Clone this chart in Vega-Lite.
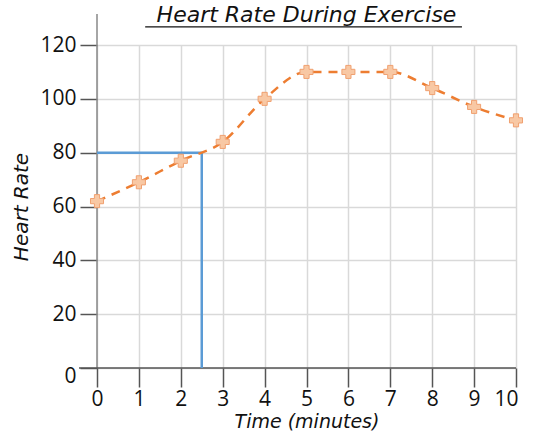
{
  "$schema": "https://vega.github.io/schema/vega-lite/v6.json",
  "autosize": "none",
  "width": 419,
  "height": 323,
  "padding": {"left": 97, "top": 45, "right": 17, "bottom": 64},
  "background": "white",
  "data": {"values": [{}]},
  "title": {
    "text": "Heart Rate During Exercise",
    "font": "DejaVu Sans",
    "fontStyle": "italic",
    "fontWeight": "normal",
    "fontSize": 22,
    "color": "#111",
    "baseline": "bottom",
    "offset": 0,
    "dy": 36,
    "anchor": "middle"
  },
  "config": {
    "view": {"stroke": null},
    "axis": {
      "labelFont": "Open Sans",
      "labelFontSize": 21,
      "labelColor": "#111",
      "labelOverlap": false,
      "titleFont": "DejaVu Sans",
      "titleFontStyle": "italic",
      "titleFontWeight": "normal",
      "titleFontSize": 20,
      "titleColor": "#111",
      "gridColor": "#d9d9d9",
      "gridWidth": 1.5,
      "tickColor": "#555",
      "tickWidth": 1.5,
      "domain": false
    }
  },
  "datasets": {
    "hr": [
      {"time": 0, "rate": 62},
      {"time": 1, "rate": 69},
      {"time": 2, "rate": 77},
      {"time": 3, "rate": 84},
      {"time": 4, "rate": 100},
      {"time": 5, "rate": 110},
      {"time": 6, "rate": 110},
      {"time": 7, "rate": 110},
      {"time": 8, "rate": 104},
      {"time": 9, "rate": 97},
      {"time": 10, "rate": 92}
    ]
  },
  "layer": [
    {
      "data": {"name": "hr"},
      "mark": {"type": "point", "opacity": 0, "size": 1},
      "encoding": {
        "x": {"field": "time", "type": "quantitative",
          "scale": {"domain": [0, 10], "nice": false},
          "axis": {"title": "Time (minutes)", "values": [0,1,2,3,4,5,6,7,8,9,10], "tickSize": 19, "labelPadding": 1, "titlePadding": 3, "titleFontSize": 19, "labelFlush": false,
            "labelAlign": {"condition": {"test": "datum.value === 10", "value": "right"}, "value": "center"},
            "labelOffset": {"condition": {"test": "datum.value === 10", "value": 2}, "value": 0}}},
        "y": {"field": "rate", "type": "quantitative",
          "scale": {"domain": [0, 120], "nice": false},
          "axis": {"title": "Heart Rate", "values": [0,20,40,60,80,100,120], "tickSize": 17, "labelPadding": 4, "titlePadding": 8,
            "labelOffset": {"condition": {"test": "datum.value === 0", "value": 8}, "value": 0}}}
      }
    },
    {
      "mark": {"type": "rule", "color": "#888", "strokeWidth": 1.5},
      "encoding": {
        "x": {"datum": 0, "type": "quantitative"},
        "y": {"datum": 0, "type": "quantitative"},
        "y2": {"datum": 131.5}
      }
    },
    {
      "mark": {"type": "rule", "color": "#555", "strokeWidth": 1.5},
      "encoding": {
        "x": {"datum": -0.43, "type": "quantitative"},
        "x2": {"datum": 10},
        "y": {"datum": 0, "type": "quantitative"}
      }
    },
    {
      "mark": {"type": "rule", "color": "#5b9bd5", "strokeWidth": 2.5},
      "encoding": {
        "x": {"datum": 0, "type": "quantitative"},
        "x2": {"datum": 2.5},
        "y": {"datum": 80, "type": "quantitative"}
      }
    },
    {
      "mark": {"type": "rule", "color": "#5b9bd5", "strokeWidth": 2.5},
      "encoding": {
        "x": {"datum": 2.5, "type": "quantitative"},
        "y": {"datum": 0, "type": "quantitative"},
        "y2": {"datum": 80}
      }
    },
    {
      "mark": {"type": "rule", "color": "#111", "strokeWidth": 1.2},
      "encoding": {
        "x": {"datum": 1.15, "type": "quantitative"},
        "x2": {"datum": 8.71},
        "y": {"datum": 126.7, "type": "quantitative"}
      }
    },
    {
      "data": {"name": "hr"},
      "mark": {"type": "line", "color": "#ed7d31", "strokeWidth": 2.5, "strokeDash": [9, 7], "interpolate": "monotone"},
      "encoding": {
        "x": {"field": "time", "type": "quantitative"},
        "y": {"field": "rate", "type": "quantitative"}
      }
    },
    {
      "data": {"name": "hr"},
      "mark": {"type": "point", "shape": "cross", "filled": true, "size": 170, "fill": "#f8c8a4", "stroke": "#f0a070", "strokeWidth": 1, "opacity": 1, "fillOpacity": 1},
      "encoding": {
        "x": {"field": "time", "type": "quantitative"},
        "y": {"field": "rate", "type": "quantitative"}
      }
    }
  ]
}
